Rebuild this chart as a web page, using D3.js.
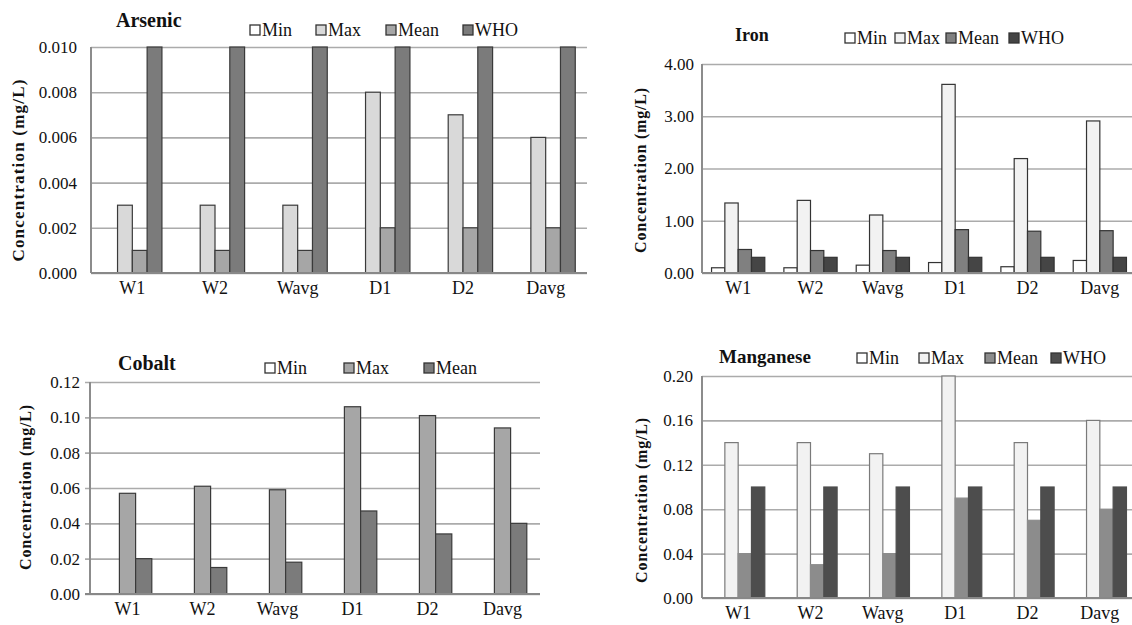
<!DOCTYPE html>
<html>
<head>
<meta charset="utf-8">
<script src="https://cdn.jsdelivr.net/npm/d3@7"></script>
<style>
  body { margin: 0; background: #fff; }
  svg text { font-family: "Liberation Serif", "Times New Roman", Times, serif; }
</style>
</head>
<body>
<svg width="1132" height="625"></svg>
<script>
// sampling sites on the x axis
var sites = ["W1", "W2", "Wavg", "D1", "D2", "Davg"];

// arsenic (mg/L)
var arsenicKeys = ["Min", "Max", "Mean", "WHO"];
var arsenicMin  = [0, 0, 0, 0, 0, 0];
var arsenicMax  = [0.003, 0.003, 0.003, 0.008, 0.007, 0.006];
var arsenicMean = [0.001, 0.001, 0.001, 0.002, 0.002, 0.002];
var arsenicWHO  = [0.010, 0.010, 0.010, 0.010, 0.010, 0.010];
var arsenicTicks = [0, 0.002, 0.004, 0.006, 0.008, 0.010];

// iron (mg/L)
var ironKeys = ["Min", "Max", "Mean", "WHO"];
var ironMin  = [0.10, 0.10, 0.15, 0.20, 0.12, 0.24];
var ironMax  = [1.34, 1.39, 1.11, 3.61, 2.19, 2.91];
var ironMean = [0.45, 0.43, 0.43, 0.83, 0.80, 0.81];
var ironWHO  = [0.30, 0.30, 0.30, 0.30, 0.30, 0.30];
var ironTicks = [0, 1, 2, 3, 4];

// cobalt (mg/L), no WHO value
var cobaltKeys = ["Min", "Max", "Mean"];
var cobaltMin  = [0, 0, 0, 0, 0, 0];
var cobaltMax  = [0.057, 0.061, 0.059, 0.106, 0.101, 0.094];
var cobaltMean = [0.020, 0.015, 0.018, 0.047, 0.034, 0.040];
var cobaltTicks = [0, 0.02, 0.04, 0.06, 0.08, 0.10, 0.12];

// manganese (mg/L)
var manganeseKeys = ["Min", "Max", "Mean", "WHO"];
var manganeseMin  = [0, 0, 0, 0, 0, 0];
var manganeseMax  = [0.14, 0.14, 0.13, 0.20, 0.14, 0.16];
var manganeseMean = [0.04, 0.03, 0.04, 0.09, 0.07, 0.08];
var manganeseWHO  = [0.10, 0.10, 0.10, 0.10, 0.10, 0.10];
var manganeseTicks = [0, 0.04, 0.08, 0.12, 0.16, 0.20];

var svg = d3.select("svg");
var serif = "'Liberation Serif', 'Times New Roman', Times, serif";

// one config per panel: data + where it sits on the page
var panels = [
  { title: "Arsenic", keys: arsenicKeys, series: [arsenicMin, arsenicMax, arsenicMean, arsenicWHO],
    ticks: arsenicTicks, fmt: ".3f",
    colors: ["#ffffff", "#d9d9d9", "#a6a6a6", "#7b7b7b"],
    strokes: ["#333", "#3a3a3a", "#3a3a3a", "#3a3a3a"],
    x: [91, 587], y: [273, 47], barPad: 0.142, tickOut: 0, labelGap: 14,
    titleX: 116, titleY: 20, titleSize: 20,
    legendX: [250, 316, 386, 463], legendY: 30,
    ytX: 18, ytY: 170, ytSize: 17, ytSpacing: 1.2 },
  { title: "Iron", keys: ironKeys, series: [ironMin, ironMax, ironMean, ironWHO],
    ticks: ironTicks, fmt: ".2f",
    colors: ["#ffffff", "#f2f2f2", "#808080", "#454545"],
    strokes: ["#333", "#333", "#333", "#333"],
    x: [702, 1136], y: [273, 64], barPad: 0.132, tickOut: 0, labelGap: 8,
    titleX: 735, titleY: 35, titleSize: 18,
    legendX: [845, 895, 946, 1009], legendY: 38,
    ytX: 640, ytY: 170, ytSize: 16, ytSpacing: 0.8 },
  { title: "Cobalt", keys: cobaltKeys, series: [cobaltMin, cobaltMax, cobaltMean],
    ticks: cobaltTicks, fmt: ".2f",
    colors: ["#ffffff", "#a6a6a6", "#7b7b7b"],
    strokes: ["#333", "#3a3a3a", "#3a3a3a"],
    x: [90, 540], y: [594, 382], barPad: 0.176, tickOut: 5, labelGap: 10,
    titleX: 118, titleY: 363, titleSize: 20,
    legendX: [265, 344, 424], legendY: 368,
    ytX: 25, ytY: 487, ytSize: 16, ytSpacing: 0.8 },
  { title: "Manganese", keys: manganeseKeys, series: [manganeseMin, manganeseMax, manganeseMean, manganeseWHO],
    ticks: manganeseTicks, fmt: ".2f",
    colors: ["#ffffff", "#f2f2f2", "#8c8c8c", "#4d4d4d"],
    strokes: ["#333", "#7a7a7a", "#8c8c8c", "#4d4d4d"],
    x: [702, 1136], y: [598, 376], barPad: 0.132, tickOut: 0, labelGap: 9,
    titleX: 719, titleY: 356, titleSize: 19,
    legendX: [857, 919, 985, 1051], legendY: 358,
    ytX: 641, ytY: 500, ytSize: 16, ytSpacing: 0.8 }
];

panels.forEach(drawPanel);

function drawPanel(p) {
  var x0 = d3.scaleBand().domain(sites).range(p.x);
  var bw = x0.bandwidth();
  var x1 = d3.scaleBand().domain(p.keys).range([bw * p.barPad, bw - bw * p.barPad]);
  var y = d3.scaleLinear().domain([0, d3.max(p.ticks)]).range(p.y);
  var color = d3.scaleOrdinal().domain(p.keys).range(p.colors);
  var stroke = d3.scaleOrdinal().domain(p.keys).range(p.strokes);
  var w = p.x[1] - p.x[0];

  var g = svg.append("g").attr("font-family", serif);

  // gridlines
  g.append("g")
      .attr("transform", "translate(" + p.x[0] + ",0)")
      .call(d3.axisLeft(y).tickValues(p.ticks).tickSize(-w - p.tickOut).tickFormat(""))
      .call(function(s) {
        s.select(".domain").remove();
        s.selectAll("line").attr("x1", -p.tickOut).attr("x2", w)
          .attr("stroke", "#ababab").attr("stroke-width", 1.6);
      });

  // tick labels
  g.append("g")
      .attr("transform", "translate(" + (p.x[0] - p.labelGap) + ",0)")
      .call(d3.axisLeft(y).tickValues(p.ticks).tickSize(0).tickPadding(0).tickFormat(d3.format(p.fmt)))
      .call(function(s) {
        s.attr("font-family", serif);
        s.select(".domain").remove();
        s.selectAll("text").attr("font-size", 17).attr("fill", "#111");
      });

  // bars, one group per site
  var rows = sites.map(function(s, i) {
    return { site: s, vals: p.keys.map(function(k, j) { return { key: k, value: p.series[j][i] }; }) };
  });

  g.append("g").selectAll("g")
    .data(rows)
    .enter().append("g")
      .attr("transform", function(d) { return "translate(" + x0(d.site) + ",0)"; })
    .selectAll("rect")
    .data(function(d) { return d.vals.filter(function(v) { return v.value > 0; }); })
    .enter().append("rect")
      .attr("x", function(d) { return x1(d.key); })
      .attr("y", function(d) { return y(d.value); })
      .attr("width", x1.bandwidth())
      .attr("height", function(d) { return y(0) - y(d.value); })
      .attr("fill", function(d) { return color(d.key); })
      .attr("stroke", function(d) { return stroke(d.key); })
      .attr("stroke-width", 1.2);

  // axis lines
  g.append("line")
      .attr("x1", p.x[0]).attr("x2", p.x[0]).attr("y1", p.y[1]).attr("y2", p.y[0])
      .attr("stroke", "#8c8c8c").attr("stroke-width", 2);
  g.append("line")
      .attr("x1", p.x[0] - p.tickOut).attr("x2", p.x[1]).attr("y1", p.y[0]).attr("y2", p.y[0])
      .attr("stroke", "#888").attr("stroke-width", 2);

  // site labels
  g.append("g")
      .attr("transform", "translate(0," + p.y[0] + ")")
      .call(d3.axisBottom(x0).tickSize(0).tickPadding(8))
      .call(function(s) {
        s.attr("font-family", serif);
        s.select(".domain").remove();
        s.selectAll("text").attr("font-size", 18).attr("fill", "#111").attr("dy", "0.71em");
      });

  // title
  g.append("text")
      .attr("x", p.titleX).attr("y", p.titleY).attr("dy", "0.35em")
      .attr("font-size", p.titleSize).attr("font-weight", "bold").attr("fill", "#111")
      .text(p.title);

  // y axis title
  g.append("text")
      .attr("transform", "translate(" + p.ytX + "," + p.ytY + ") rotate(-90)")
      .attr("text-anchor", "middle").attr("dy", "0.35em")
      .attr("font-size", p.ytSize).attr("font-weight", "bold")
      .attr("letter-spacing", p.ytSpacing).attr("fill", "#111")
      .text("Concentration (mg/L)");

  // legend
  var legend = g.append("g").selectAll("g")
    .data(p.keys)
    .enter().append("g")
      .attr("transform", function(d, i) { return "translate(" + p.legendX[i] + "," + p.legendY + ")"; });

  legend.append("rect")
      .attr("x", 0).attr("y", -5)
      .attr("width", 10).attr("height", 10)
      .attr("fill", color)
      .attr("stroke", "#333").attr("stroke-width", 1.3);

  legend.append("text")
      .attr("x", 12).attr("dy", "0.35em")
      .attr("font-size", 18).attr("fill", "#111")
      .text(function(d) { return d; });
}
</script>
</body>
</html>
